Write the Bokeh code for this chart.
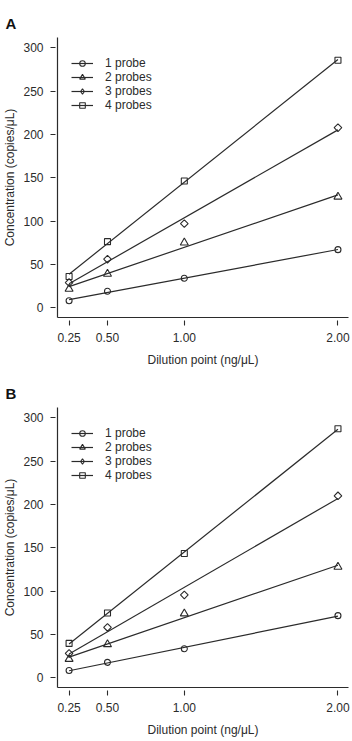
import numpy as np
from bokeh.plotting import figure
from bokeh.models import Range1d, FixedTicker, NumeralTickFormatter, Legend, LegendItem, ColumnDataSource
from bokeh.layouts import column
from bokeh.embed import file_html
from bokeh.resources import INLINE

# ---- data ----
dilution = [0.25, 0.50, 1.00, 2.00]
x_ticks = [0.25, 0.50, 1.00, 2.00]
y_ticks = [0, 50, 100, 150, 200, 250, 300]
series_labels = ["1 probe", "2 probes", "3 probes", "4 probes"]

panel_a_1probe = [8.0, 19.0, 34.0, 67.0]
panel_a_2probes = [21.6, 39.0, 75.0, 128.0]
panel_a_3probes = [29.0, 56.0, 97.0, 207.7]
panel_a_4probes = [36.0, 76.2, 146.2, 285.6]

panel_b_1probe = [8.4, 17.7, 33.5, 71.6]
panel_b_2probes = [21.5, 38.5, 74.0, 127.8]
panel_b_3probes = [28.0, 58.0, 95.5, 209.9]
panel_b_4probes = [39.6, 74.7, 143.3, 287.3]

panels = [
    ("A", [panel_a_1probe, panel_a_2probes, panel_a_3probes, panel_a_4probes]),
    ("B", [panel_b_1probe, panel_b_2probes, panel_b_3probes, panel_b_4probes]),
]

FONT = "Liberation Sans"
INK = "#2b2b2b"
FS = "12px"
# (data marker, size, angle, legend marker)
markers = [("circle", 6, 0.0, "circle"),
           ("triangle", 8, 0.0, "triangle"),
           ("square", 5.4, np.pi / 4, "diamond"),
           ("square", 6, 0.0, "square")]


def make_panel(letter, series):
    p = figure(width=352, height=370, output_backend="svg", toolbar_location=None,
               x_range=Range1d(0.1746, 2.0686), y_range=Range1d(-11.3, 311.8),
               min_border_left=54, min_border_right=4, min_border_top=37, min_border_bottom=53)
    p.outline_line_color = None
    p.grid.grid_line_color = None
    p.background_fill_color = "white"

    p.title.text = letter
    p.title.text_font = FONT
    p.title.text_font_size = "15px"
    p.title.text_font_style = "bold"
    p.title.text_color = "#111111"
    p.title.align = "left"
    p.title.offset = -52
    p.title.standoff = 11

    items = []
    xs = np.array(dilution)
    for (marker, size, angle, leg_marker), ys, label in zip(markers, series, series_labels):
        slope, intercept = np.polyfit(xs, np.array(ys), 1)
        lx = [xs.min(), xs.max()]
        ly = [intercept + slope * v for v in lx]
        lr = p.line(lx, ly, line_color=INK, line_width=1.2)
        sr = p.scatter(dilution, ys, marker=marker, size=size, angle=angle,
                       fill_color=None, line_color=INK, line_width=1.1)
        if leg_marker != marker or angle != 0.0:
            # legend-only swatch (legend swatches ignore marker rotation); NaN point is never drawn
            swatch = ColumnDataSource(data=dict(x=np.array([np.nan]), y=np.array([np.nan])))
            sr = p.scatter("x", "y", source=swatch, marker=leg_marker, size=size,
                           fill_color=None, line_color=INK, line_width=1.1)
        items.append(LegendItem(label=label, renderers=[lr, sr]))

    legend = Legend(items=items, location=(14, 205), padding=0, margin=0, spacing=0,
                    glyph_width=22, glyph_height=14, label_height=14, label_standoff=12,
                    label_text_font=FONT, label_text_font_size=FS, label_text_color=INK,
                    border_line_color=None, background_fill_alpha=0)
    p.add_layout(legend, "center")

    xa = p.xaxis[0]
    xa.ticker = FixedTicker(ticks=x_ticks)
    xa.formatter = NumeralTickFormatter(format="0.00")
    xa.axis_label = "Dilution point (ng/\u03bcL)"
    xa.major_tick_in = -3
    xa.major_tick_out = 8
    xa.major_label_standoff = 7
    xa.axis_label_standoff = 8

    ya = p.yaxis[0]
    ya.ticker = FixedTicker(ticks=y_ticks)
    ya.axis_label = "Concentration (copies/\u03bcL)"
    ya.major_tick_in = -2
    ya.major_tick_out = 7
    ya.major_label_standoff = 7
    ya.axis_label_standoff = 3

    for ax in (xa, ya):
        ax.axis_line_color = INK
        ax.axis_line_width = 1.2
        ax.major_tick_line_color = INK
        ax.major_tick_line_width = 1.1
        ax.minor_tick_line_color = None
        ax.major_label_text_font = FONT
        ax.major_label_text_font_size = FS
        ax.major_label_text_color = INK
        ax.axis_label_text_font = FONT
        ax.axis_label_text_font_size = FS
        ax.axis_label_text_font_style = "normal"
        ax.axis_label_text_color = INK
    return p


figs = [make_panel(letter, series) for letter, series in panels]
layout = column(*figs, spacing=0)

open("out.html", "w").write(file_html(layout, INLINE))
